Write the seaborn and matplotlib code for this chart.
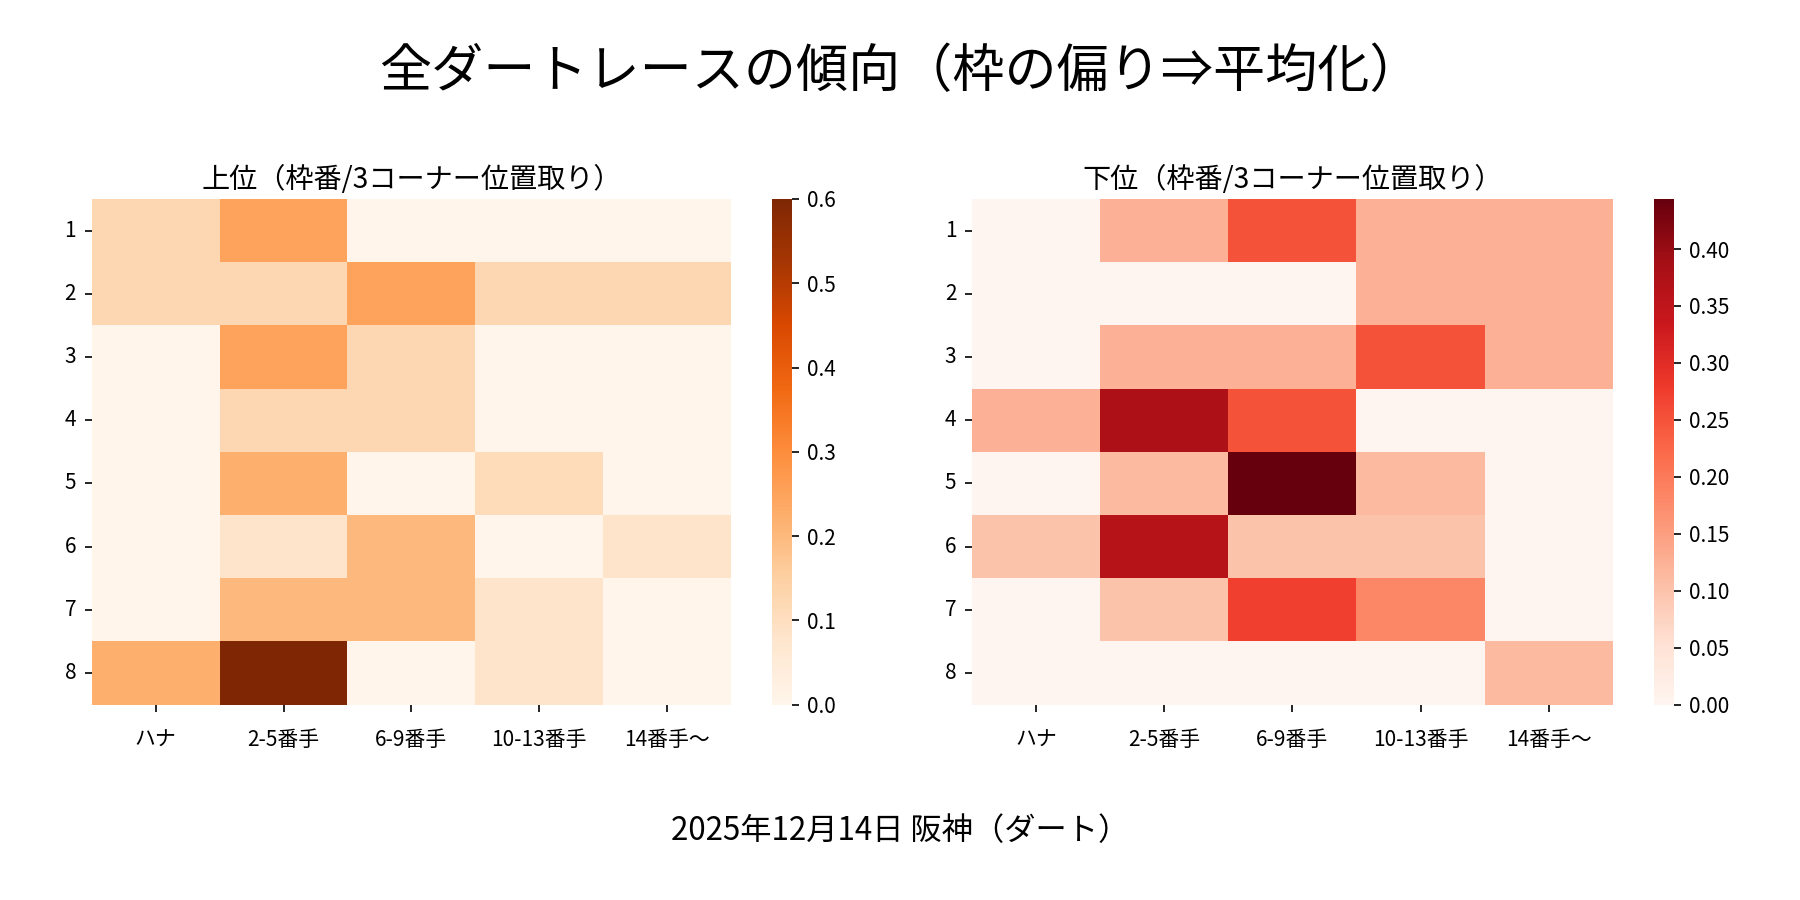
import numpy as np
import pandas as pd
import matplotlib
matplotlib.use("Agg")
import matplotlib.pyplot as plt
import seaborn as sns

sns.set_theme(style="white")
plt.rcParams['font.family'] = ['Noto Sans CJK JP', 'DejaVu Sans']
plt.rcParams['text.color'] = 'black'
plt.rcParams['axes.labelcolor'] = 'black'
plt.rcParams['xtick.color'] = 'black'
plt.rcParams['ytick.color'] = 'black'

frames = ["1", "2", "3", "4", "5", "6", "7", "8"]
positions = ["ハナ", "2-5番手", "6-9番手", "10-13番手", "14番手〜"]

upper_vals = [
    [0.125, 0.25, 0.0, 0.0, 0.0],
    [0.125, 0.125, 0.25, 0.125, 0.125],
    [0.0, 0.25, 0.125, 0.0, 0.0],
    [0.0, 0.125, 0.125, 0.0, 0.0],
    [0.0, 0.222, 0.0, 0.111, 0.0],
    [0.0, 0.083, 0.2, 0.0, 0.083],
    [0.0, 0.2, 0.2, 0.083, 0.0],
    [0.222, 0.6, 0.0, 0.083, 0.0],
]

lower_vals = [
    [0.0, 0.125, 0.25, 0.125, 0.125],
    [0.0, 0.0, 0.0, 0.125, 0.125],
    [0.0, 0.125, 0.125, 0.25, 0.125],
    [0.125, 0.375, 0.25, 0.0, 0.0],
    [0.0, 0.111, 0.444, 0.111, 0.0],
    [0.1, 0.364, 0.1, 0.1, 0.0],
    [0.0, 0.1, 0.273, 0.182, 0.0],
    [0.0, 0.0, 0.0, 0.0, 0.111],
]

df_up = pd.DataFrame(upper_vals, index=frames, columns=positions)
df_lo = pd.DataFrame(lower_vals, index=frames, columns=positions)

fig = plt.figure(figsize=(12, 6), dpi=150)
ax1 = fig.add_axes([0.051, 0.217, 0.355, 0.562])
cax1 = fig.add_axes([0.429, 0.217, 0.011, 0.562])
ax2 = fig.add_axes([0.540, 0.217, 0.356, 0.562])
cax2 = fig.add_axes([0.919, 0.217, 0.011, 0.562])

sns.heatmap(df_up, ax=ax1, cbar_ax=cax1, cmap="Oranges", vmin=0)
sns.heatmap(df_lo, ax=ax2, cbar_ax=cax2, cmap="Reds", vmin=0)

for ax, t in [(ax1, "上位（枠番/3コーナー位置取り）"), (ax2, "下位（枠番/3コーナー位置取り）")]:
    ax.set_title(t, fontsize=13.5, color="black", pad=5)
    ax.set_xlabel("")
    ax.set_ylabel("")
    ax.tick_params(axis="both", labelsize=10, length=3.5, width=0.8, left=True, bottom=True)
    ax.set_yticklabels(ax.get_yticklabels(), rotation=0)
    ax.set_xticklabels(ax.get_xticklabels(), rotation=0)
    ax.tick_params(axis="x", pad=8)
    ax.tick_params(axis="y", pad=4)

for cax in (cax1, cax2):
    cax.tick_params(labelsize=10, length=3.5, width=0.8, right=True)

ticks2 = [0.0, 0.05, 0.1, 0.15, 0.2, 0.25, 0.3, 0.35, 0.4]
cax2.set_yticks(ticks2)
cax2.set_yticklabels([f"{v:.2f}" for v in ticks2])

fig.suptitle("全ダートレースの傾向（枠の偏り⇒平均化）", fontsize=25, y=0.95, color="black")
fig.text(0.5, 0.077, "2025年12月14日 阪神（ダート）", ha="center", va="center", fontsize=15, color="black")

fig.savefig("out.png", dpi=150)
